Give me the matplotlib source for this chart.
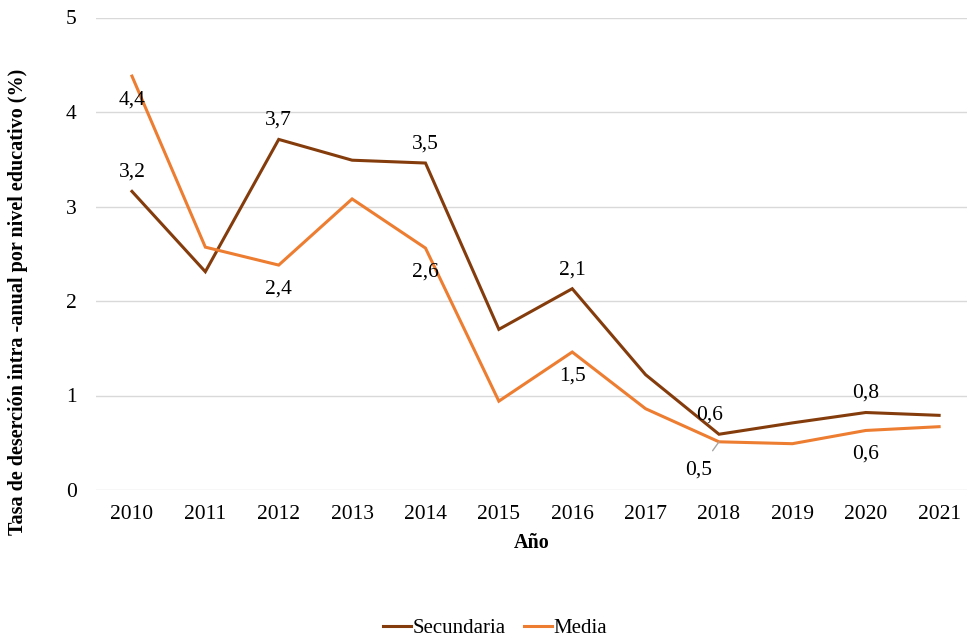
import matplotlib.pyplot as plt

years = ["2010", "2011", "2012", "2013", "2014", "2015",
         "2016", "2017", "2018", "2019", "2020", "2021"]
secundaria = [3.16, 2.31, 3.71, 3.49, 3.46, 1.70, 2.13, 1.22, 0.59, 0.71, 0.82, 0.79]
media = [4.38, 2.57, 2.38, 3.08, 2.56, 0.94, 1.46, 0.86, 0.51, 0.49, 0.63, 0.67]

# which points get a value label
sec_labeled = [0, 2, 4, 6, 8, 10]
med_labeled = [0, 2, 4, 6, 8, 10]

c_sec = "#843C0C"
c_med = "#ED7D31"

plt.rcParams["font.family"] = ["Liberation Serif", "DejaVu Serif"]

fig = plt.figure(figsize=(9.67, 6.38), dpi=100)
ax = fig.add_axes([96 / 967, 1 - 490 / 638, (967 - 96) / 967, (490 - 17.5) / 638])

x = list(range(len(years)))
ax.plot(x, secundaria, color=c_sec, lw=2.2, label="Secundaria", solid_joinstyle="miter")
ax.plot(x, media, color=c_med, lw=2.2, label="Media", solid_joinstyle="miter")

fmt = lambda v: f"{v:.1f}".replace(".", ",")

for i in sec_labeled:
    dx = -9 if i == 8 else 0
    ax.annotate(fmt(secundaria[i]), (x[i], secundaria[i]), xytext=(dx, 19),
                textcoords="offset pixels", ha="center", va="center", fontsize=15.5)

for i in med_labeled:
    if i == 8:
        ax.annotate(fmt(media[i]), (x[i], media[i]), xytext=(-20, -28),
                    textcoords="offset pixels", ha="center", va="center", fontsize=15.5,
                    arrowprops=dict(arrowstyle="-", color="#A6A6A6", lw=1.0,
                                    shrinkA=6, shrinkB=0))
    else:
        ax.annotate(fmt(media[i]), (x[i], media[i]), xytext=(0, -24),
                    textcoords="offset pixels", ha="center", va="center", fontsize=15.5)

ax.set_xlim(-0.49, 11.38)
ax.set_ylim(0, 5)
ax.set_xticks(x, labels=years)
ax.set_yticks(range(6))
ax.tick_params(axis="both", length=0, labelsize=15.5)
ax.tick_params(axis="x", pad=11)
ax.tick_params(axis="y", pad=14)
ax.grid(axis="y", color="#D9D9D9", lw=1)
ax.set_axisbelow(True)
for s in ax.spines.values():
    s.set_visible(False)

ax.set_xlabel("Año", fontsize=14.5, fontweight="bold", labelpad=6)
fig.text(18 / 967, 1 - 302 / 638, "Tasa de deserción intra -anual por nivel educativo (%)",
         rotation=90, ha="center", va="center", fontsize=14.5, fontweight="bold")

fig.legend(loc="center", bbox_to_anchor=(495 / 967, 1 - 628 / 638), ncol=2, frameon=False,
           fontsize=15, handlelength=1.35, handletextpad=0.1, columnspacing=0.85)

fig.savefig("out.png", dpi=100)
